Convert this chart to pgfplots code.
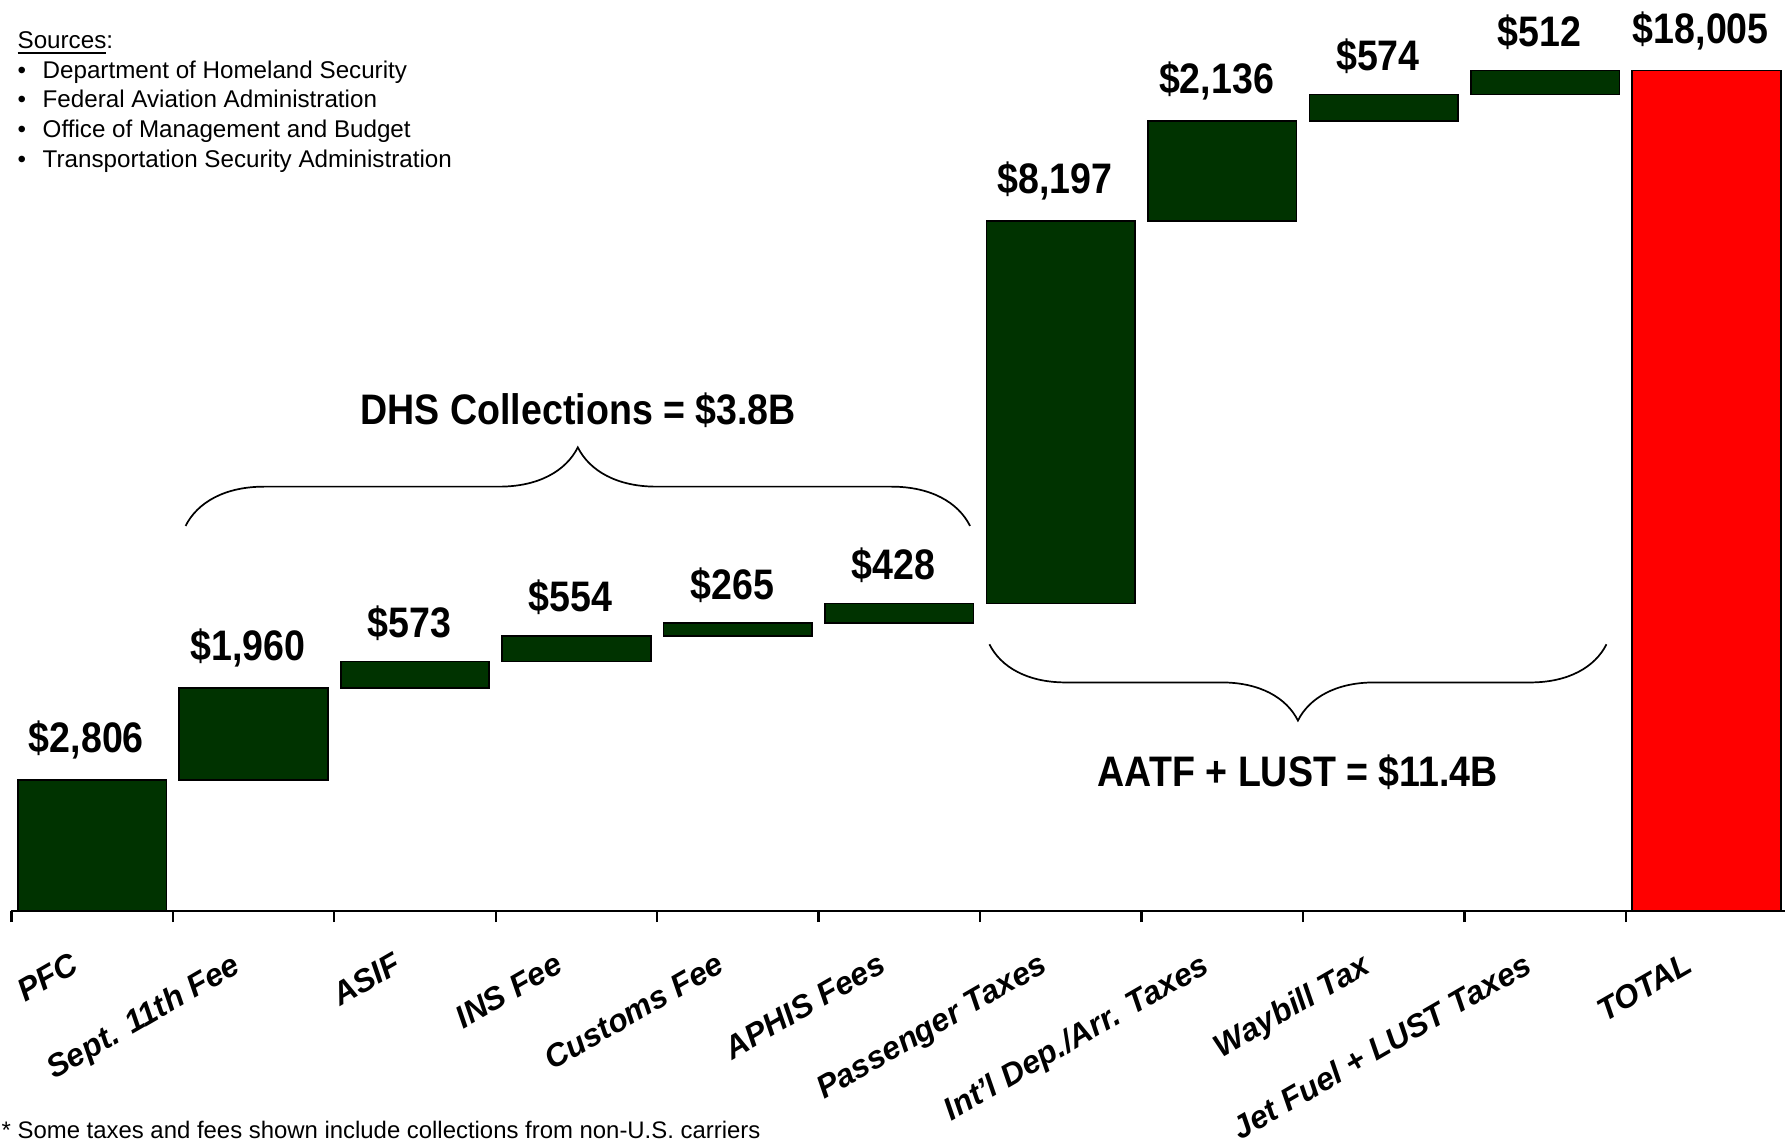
\documentclass[border=0pt]{standalone}
\usepackage{fontspec}
\setmainfont{Liberation Sans}
\usepackage{pgfplots}
\pgfplotsset{compat=1.18}
\usetikzlibrary{decorations.pathreplacing}
\definecolor{barGreen}{RGB}{0,51,0}
\definecolor{totalRed}{RGB}{255,0,0}

\newcommand{\vlab}[1]{\scalebox{0.88}[1]{#1}}

\begin{document}
\begin{tikzpicture}
% values in $ billions (labels give $ millions)
\begin{axis}[
  name=ax,
  scale only axis, width=624pt, height=320pt,
  xmin=-0.5, xmax=10.5, ymin=0, ymax=19.517,
  ybar stacked, bar width=0.92,
  axis x line*=bottom, axis y line=none,
  x axis line style={line width=0.8pt},
  xtick={0,...,10},
  xticklabels={PFC, Sept. 11th Fee, ASIF, INS Fee, Customs Fee, APHIS Fees, Passenger Taxes, Int'l Dep./Arr. Taxes, Waybill Tax, Jet Fuel + LUST Taxes, TOTAL},
  major tick length=0pt,
  minor xtick={-0.5,0.5,...,9.5},
  minor tick length=4pt, tick align=outside,
  minor tick style={line width=0.8pt, black},
  xticklabel style={font=\fontsize{11.2}{13}\selectfont\bfseries\itshape, xshift=-8pt, yshift=-14pt, rotate=30, anchor=north east, inner sep=0pt},
  % stacked bars put the label mid-segment: lift it by half the bar height
  visualization depends on={rawy \as \rawy},
  nodes near coords style={font=\fontsize{15}{18}\selectfont\bfseries, anchor=south, inner sep=0pt, xshift=-2pt, yshift={\rawy*8.198pt+7pt}},
  clip=false,
]
% invisible base of the waterfall
\addplot[fill=none, draw=none, forget plot] coordinates {
  (0,0) (1,2.806) (2,4.766) (3,5.339) (4,5.893) (5,6.158)
  (6,6.586) (7,14.783) (8,16.919) (9,17.493) (10,0)};
% increments
\addplot[fill=barGreen, draw=black, line width=0.6pt,
  point meta=explicit symbolic, nodes near coords={\vlab{\pgfplotspointmeta}}] coordinates {
  (0,2.806) [\$2,806] (1,1.960) [\$1,960] (2,0.573) [\$573] (3,0.554) [\$554]
  (4,0.265) [\$265] (5,0.428) [\$428] (6,8.197) [\$8,197] (7,2.136) [\$2,136]
  (8,0.574) [\$574] (9,0.512) [\$512] (10,0) []};
% total
\addplot[fill=totalRed, draw=black, line width=0.6pt,
  point meta=explicit symbolic, nodes near coords={\vlab{\pgfplotspointmeta}}] coordinates {
  (0,0) [] (1,0) [] (2,0) [] (3,0) [] (4,0) [] (5,0) []
  (6,0) [] (7,0) [] (8,0) [] (9,0) [] (10,18.005) [\$18,005]};

\draw[decorate, decoration={brace, amplitude=27.6pt}, line width=0.6pt]
  (axis cs:0.579,8.246) -- (axis cs:5.438,8.246);
\draw[decorate, decoration={brace, amplitude=26.8pt}, line width=0.6pt]
  (axis cs:9.380,5.709) -- (axis cs:5.558,5.709);
\node[font=\fontsize{15}{18}\selectfont\bfseries] at (axis cs:3.012,10.735)
  {\vlab{DHS Collections = \$3.8B}};
\node[font=\fontsize{15}{18}\selectfont\bfseries] at (axis cs:7.469,2.976)
  {\vlab{AATF + LUST = \$11.4B}};
\end{axis}

\node[anchor=north west, inner sep=0pt, align=left,
  font=\fontsize{8.5}{10.4}\selectfont]
  at ([xshift=2pt, yshift=-11pt]ax.north west)
  {\underline{Sources}:\\
   \makebox[8.8pt][l]{\textbullet}Department of Homeland Security\\
   \makebox[8.8pt][l]{\textbullet}Federal Aviation Administration\\
   \makebox[8.8pt][l]{\textbullet}Office of Management and Budget\\
   \makebox[8.8pt][l]{\textbullet}Transportation Security Administration};
\node[anchor=base west, inner sep=0pt, font=\fontsize{8.4}{10}\selectfont]
  at ([xshift=-3.6pt, yshift=-80pt]ax.south west)
  {* Some taxes and fees shown include collections from non-U.S. carriers};

\pgfresetboundingbox
\path[use as bounding box] ([xshift=-4pt, yshift=-80.4pt]ax.south west)
  rectangle ([xshift=623.2pt, yshift=320pt]ax.south west);
\end{tikzpicture}
\end{document}
